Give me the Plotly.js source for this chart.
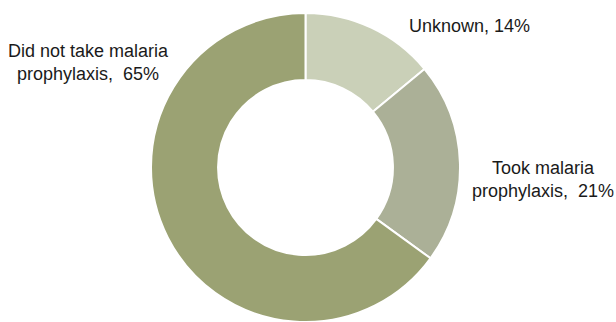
<!DOCTYPE html>
<html>
<head>
<meta charset="utf-8">
<script src="https://cdn.plot.ly/plotly-3.0.1.min.js"></script>
<style>html,body{margin:0;padding:0;background:#fff;}#chart{width:616px;height:322px;}</style>
</head>
<body>
<div id="chart"></div>
<script>
var categories = ["Unknown", "Took malaria prophylaxis", "Did not take malaria prophylaxis"];
var labelLines = [["Unknown, 14%"], ["Took malaria", "prophylaxis,\u00a0 21%"], ["Did not take malaria", "prophylaxis,\u00a0 65%"]];
var values = [14, 21, 65];
var colors = ["#cad0b8", "#abb097", "#9ba273"];

var labelPos = [
  {x: 469, y: 26},
  {x: 543, y: 180},
  {x: 88, y: 63}
];

var W = 616, H = 322;
var annotations = labelLines.map(function (lines, i) {
  return {
    xref: "paper", yref: "paper",
    x: labelPos[i].x / W, y: 1 - labelPos[i].y / H,
    xanchor: "center", yanchor: "middle",
    text: lines.join("<br>"),
    showarrow: false,
    align: "center",
    font: {family: "'Liberation Sans Narrow', 'Arial Narrow', 'Liberation Sans', Arial, sans-serif", size: 18, color: "#1a1a1a"}
  };
});

var trace = {
  type: "pie",
  labels: categories,
  values: values,
  hole: 0.566,
  sort: false,
  direction: "clockwise",
  rotation: 0,
  textinfo: "none",
  hoverinfo: "label+percent",
  marker: {colors: colors, line: {color: "#ffffff", width: 2}},
  domain: {x: [(305.5 - 155.5) / W, (305.5 + 155.5) / W], y: [0, 1 - 13 / H]},
  showlegend: false
};

Plotly.newPlot("chart", [trace], {
  width: W, height: H,
  margin: {l: 0, r: 0, t: 0, b: 0},
  paper_bgcolor: "#ffffff",
  plot_bgcolor: "#ffffff",
  annotations: annotations,
  showlegend: false
}, {displayModeBar: false, staticPlot: true});
</script>
</body>
</html>
